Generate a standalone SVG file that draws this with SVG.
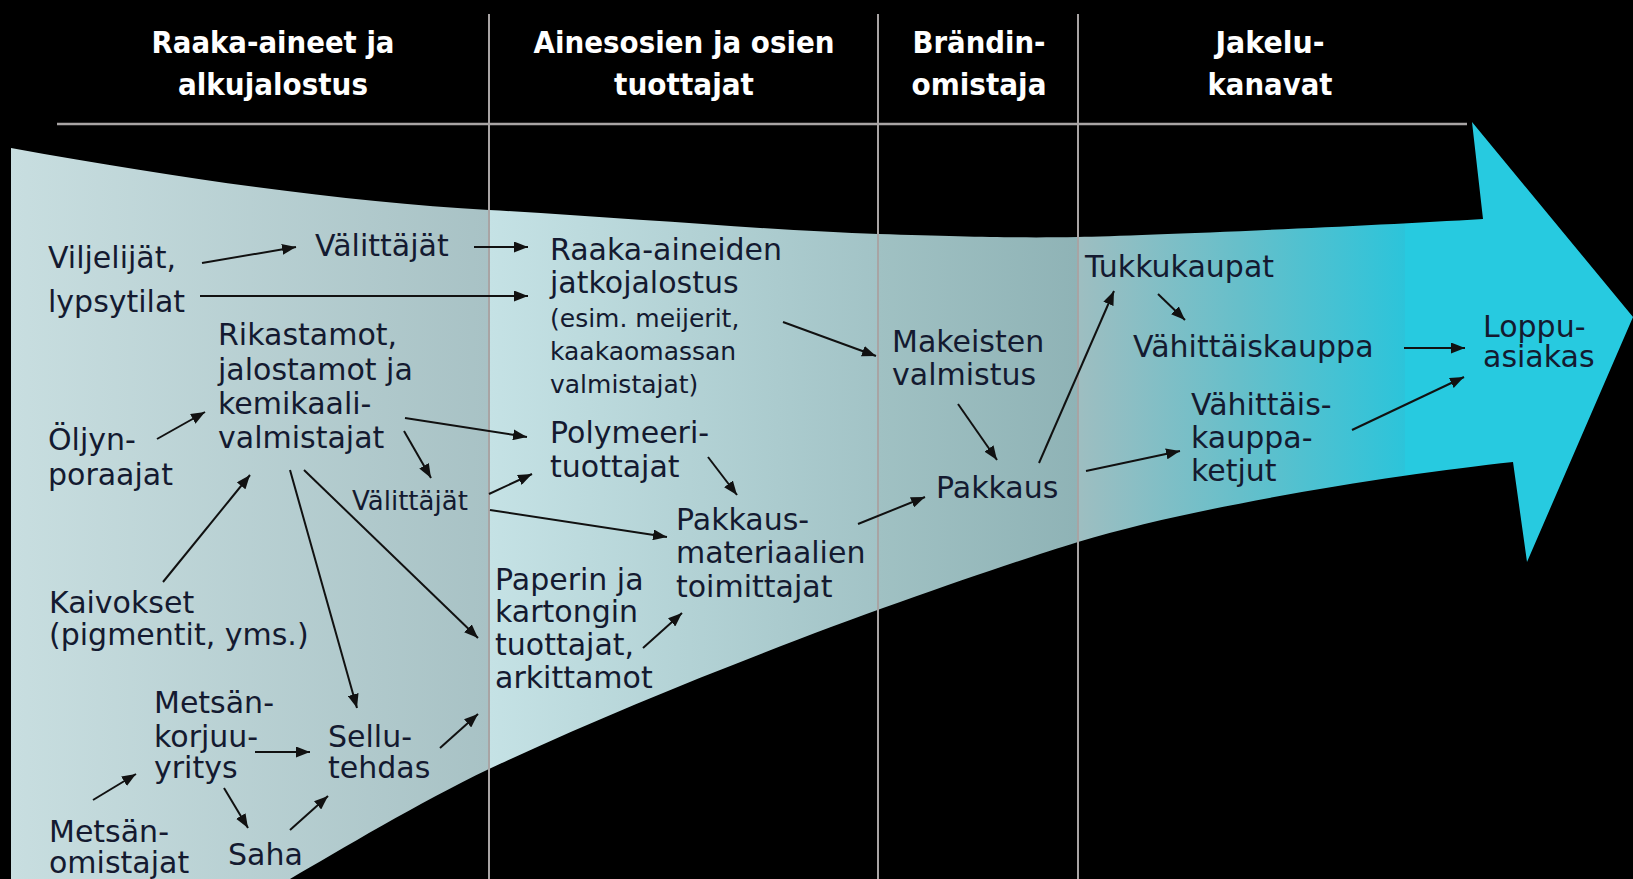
<svg xmlns="http://www.w3.org/2000/svg" width="1633" height="879" viewBox="0 0 1633 879">
<defs>
<linearGradient id="flow" gradientUnits="userSpaceOnUse" x1="0" y1="0" x2="1633" y2="0">
<stop offset="0.0067" stop-color="#c8dee0"/>
<stop offset="0.2994" stop-color="#a8c2c5"/>
<stop offset="0.2995" stop-color="#c5e2e5"/>
<stop offset="0.5377" stop-color="#a2c3c6"/>
<stop offset="0.5378" stop-color="#a0c1c3"/>
<stop offset="0.6601" stop-color="#8fb3b6"/>
<stop offset="0.6602" stop-color="#9ebec1"/>
<stop offset="0.76" stop-color="#66bfca"/>
<stop offset="0.8603" stop-color="#2cc4da"/>
<stop offset="0.8604" stop-color="#27cae0"/>
<stop offset="1" stop-color="#27cae0"/>
</linearGradient>
<marker id="ah" markerUnits="userSpaceOnUse" markerWidth="14" markerHeight="11" refX="14" refY="5.5" orient="auto">
<path d="M0,0 L14,5.5 L0,11 z" fill="#111"/>
</marker>
<style>
.hd{font-family:"DejaVu Sans",sans-serif;font-weight:bold;font-size:31px;fill:#ffffff;text-anchor:middle}
.t{font-family:"DejaVu Sans",sans-serif;font-size:30px;fill:#141a30}
.s{font-family:"DejaVu Sans",sans-serif;font-size:25px;fill:#141a30}
.m{font-family:"DejaVu Sans",sans-serif;font-size:26px;fill:#141a30}
.grid{stroke:#a8a4a4;stroke-width:2;fill:none}
.c line{stroke:#111;stroke-width:2;marker-end:url(#ah)}
</style>
</defs>
<rect x="0" y="0" width="1633" height="879" fill="#000"/>
<path id="funnel" d="M11,148 C200,182 350,202 489,210 S780,231 878,234 S1020,238 1078,237 S1350,227 1483,219 L1472,122 L1633,317 L1527,562 L1513,462 C1400,474 1200,505 1078,542 C950,582 700,670 489,769 C420,802 340,850 290,879 L11,879 Z" fill="url(#flow)"/>
<g id="grid" class="grid">
<line x1="489" y1="14" x2="489" y2="879"/>
<line x1="878" y1="14" x2="878" y2="879"/>
<line x1="1078" y1="14" x2="1078" y2="879"/>
<line x1="57" y1="124" x2="1467" y2="124" stroke-width="2.5"/>
</g>
<g id="headers">
<text class="hd" x="273" y="53" textLength="243" lengthAdjust="spacingAndGlyphs">Raaka-aineet ja</text>
<text class="hd" x="273" y="95" textLength="190" lengthAdjust="spacingAndGlyphs">alkujalostus</text>
<text class="hd" x="684" y="53" textLength="301" lengthAdjust="spacingAndGlyphs">Ainesosien ja osien</text>
<text class="hd" x="684" y="95" textLength="140" lengthAdjust="spacingAndGlyphs">tuottajat</text>
<text class="hd" x="979" y="53" textLength="133" lengthAdjust="spacingAndGlyphs">Brändin-</text>
<text class="hd" x="979" y="95" textLength="135" lengthAdjust="spacingAndGlyphs">omistaja</text>
<text class="hd" x="1270" y="53" textLength="109" lengthAdjust="spacingAndGlyphs">Jakelu-</text>
<text class="hd" x="1270" y="95" textLength="125" lengthAdjust="spacingAndGlyphs">kanavat</text>
</g>
<g id="n-viljelijat"><text class="t" x="48" y="268">Viljelijät,</text><text class="t" x="48" y="312">lypsytilat</text></g>
<g id="n-valittajat1"><text class="t" x="315" y="256">Välittäjät</text></g>
<g id="n-rikastamot"><text class="t" x="218" y="345">Rikastamot,</text><text class="t" x="218" y="380">jalostamot ja</text><text class="t" x="218" y="414">kemikaali-</text><text class="t" x="218" y="448">valmistajat</text></g>
<g id="n-oljyn"><text class="t" x="48" y="450">Öljyn-</text><text class="t" x="48" y="485">poraajat</text></g>
<g id="n-valittajat2"><text class="m" x="352" y="510">Välittäjät</text></g>
<g id="n-kaivokset"><text class="t" x="49" y="613">Kaivokset</text><text class="t" x="49" y="645">(pigmentit, yms.)</text></g>
<g id="n-korjuu"><text class="t" x="154" y="713">Metsän-</text><text class="t" x="154" y="747">korjuu-</text><text class="t" x="154" y="778">yritys</text></g>
<g id="n-sellu"><text class="t" x="328" y="747">Sellu-</text><text class="t" x="328" y="778">tehdas</text></g>
<g id="n-omistajat"><text class="t" x="49" y="842">Metsän-</text><text class="t" x="49" y="873">omistajat</text></g>
<g id="n-saha"><text class="t" x="228" y="865">Saha</text></g>
<g id="n-raaka"><text class="t" x="550" y="260">Raaka-aineiden</text><text class="t" x="550" y="293">jatkojalostus</text><text class="s" x="550" y="327">(esim. meijerit,</text><text class="s" x="550" y="360">kaakaomassan</text><text class="s" x="550" y="393">valmistajat)</text></g>
<g id="n-polymeeri"><text class="t" x="550" y="443">Polymeeri-</text><text class="t" x="550" y="477">tuottajat</text></g>
<g id="n-paperin"><text class="t" x="495" y="590">Paperin ja</text><text class="t" x="495" y="622">kartongin</text><text class="t" x="495" y="655">tuottajat,</text><text class="t" x="495" y="688">arkittamot</text></g>
<g id="n-pakkausmat"><text class="t" x="676" y="530">Pakkaus-</text><text class="t" x="676" y="563">materiaalien</text><text class="t" x="676" y="597">toimittajat</text></g>
<g id="n-makeisten"><text class="t" x="892" y="352">Makeisten</text><text class="t" x="892" y="385">valmistus</text></g>
<g id="n-pakkaus"><text class="t" x="936" y="498">Pakkaus</text></g>
<g id="n-tukku"><text class="t" x="1085" y="277">Tukkukaupat</text></g>
<g id="n-vahittaiskauppa"><text class="t" x="1133" y="357">Vähittäiskauppa</text></g>
<g id="n-ketjut"><text class="t" x="1191" y="415">Vähittäis-</text><text class="t" x="1191" y="448">kauppa-</text><text class="t" x="1191" y="481">ketjut</text></g>
<g id="n-loppu"><text class="t" x="1483" y="337">Loppu-</text><text class="t" x="1483" y="367">asiakas</text></g>
<g id="connectors" class="c">
<line x1="202" y1="263" x2="296" y2="247"/>
<line x1="474" y1="247" x2="528" y2="247"/>
<line x1="200" y1="296" x2="528" y2="296"/>
<line x1="157" y1="439" x2="205" y2="412"/>
<line x1="405" y1="418" x2="527" y2="437"/>
<line x1="404" y1="431" x2="431" y2="478"/>
<line x1="489" y1="494" x2="532" y2="474"/>
<line x1="490" y1="510" x2="667" y2="537"/>
<line x1="163" y1="582" x2="250" y2="475"/>
<line x1="290" y1="470" x2="357" y2="708"/>
<line x1="304" y1="470" x2="478" y2="638"/>
<line x1="93" y1="800" x2="136" y2="774"/>
<line x1="255" y1="752" x2="310" y2="752"/>
<line x1="224" y1="788" x2="248" y2="828"/>
<line x1="290" y1="830" x2="328" y2="796"/>
<line x1="440" y1="748" x2="478" y2="714"/>
<line x1="643" y1="648" x2="682" y2="613"/>
<line x1="708" y1="457" x2="737" y2="495"/>
<line x1="858" y1="524" x2="925" y2="497"/>
<line x1="783" y1="322" x2="876" y2="356"/>
<line x1="958" y1="404" x2="997" y2="460"/>
<line x1="1039" y1="463" x2="1114" y2="291"/>
<line x1="1086" y1="471" x2="1180" y2="451"/>
<line x1="1158" y1="294" x2="1185" y2="320"/>
<line x1="1404" y1="348" x2="1465" y2="348"/>
<line x1="1352" y1="430" x2="1464" y2="377"/>
</g>
</svg>
